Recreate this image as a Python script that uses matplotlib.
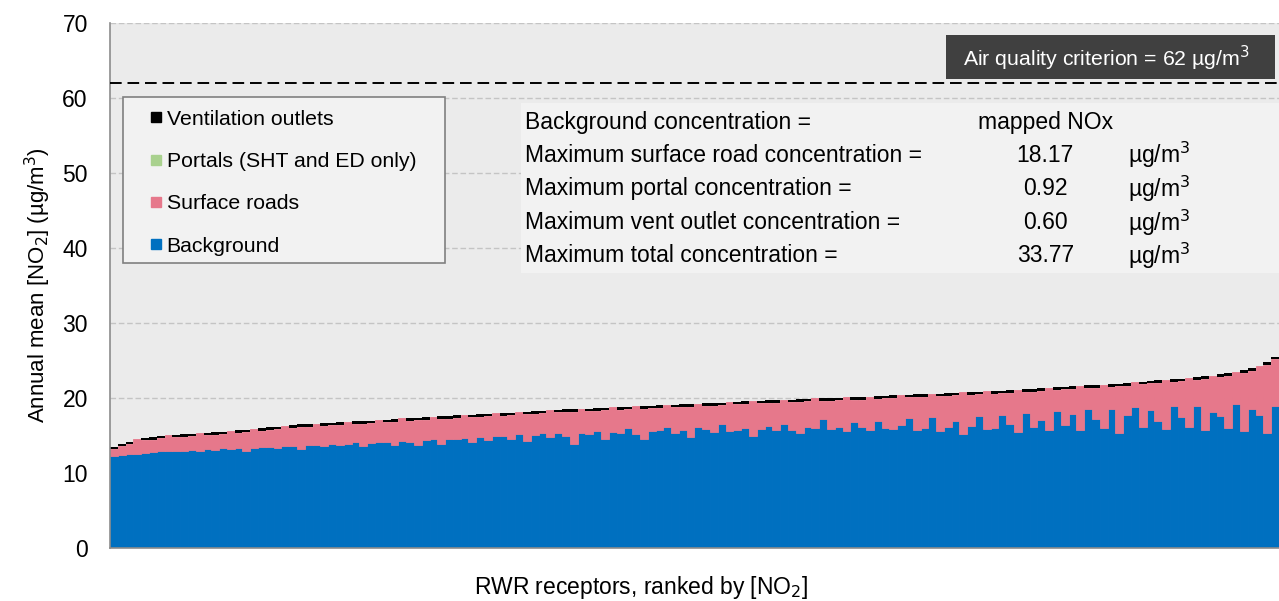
import numpy as np
import matplotlib
matplotlib.use("Agg")
import matplotlib.pyplot as plt
from matplotlib.lines import Line2D
from matplotlib.patches import Rectangle

plt.rcParams["font.family"] = ["Liberation Sans", "DejaVu Sans"]

# total annual mean NO2 per receptor, ranked
total_no2 = [
    13.5, 13.9, 14.2, 14.5, 14.7, 14.8, 15.0, 15.05, 15.1, 15.2,
    15.25, 15.3, 15.4, 15.45, 15.5, 15.6, 15.7, 15.8, 15.9, 16.0,
    16.1, 16.2, 16.3, 16.4, 16.5, 16.55, 16.6, 16.65, 16.7, 16.8,
    16.85, 16.9, 16.95, 17.0, 17.05, 17.1, 17.2, 17.3, 17.35, 17.4,
    17.45, 17.5, 17.55, 17.6, 17.7, 17.75, 17.8, 17.85, 17.9, 17.95,
    18.0, 18.05, 18.1, 18.2, 18.25, 18.3, 18.4, 18.45, 18.5, 18.55,
    18.6, 18.6, 18.65, 18.7, 18.75, 18.8, 18.85, 18.9, 18.95, 19.0,
    19.05, 19.1, 19.1, 19.15, 19.2, 19.25, 19.3, 19.35, 19.4, 19.45,
    19.5, 19.55, 19.6, 19.65, 19.7, 19.7, 19.75, 19.8, 19.85, 19.9,
    19.95, 20.0, 20.0, 20.05, 20.1, 20.1, 20.15, 20.2, 20.25, 20.3,
    20.35, 20.4, 20.45, 20.5, 20.5, 20.55, 20.6, 20.65, 20.7, 20.75,
    20.8, 20.85, 20.9, 20.95, 21.0, 21.05, 21.1, 21.15, 21.2, 21.3,
    21.4, 21.45, 21.5, 21.55, 21.6, 21.7, 21.75, 21.8, 21.85, 21.9,
    22.0, 22.1, 22.2, 22.3, 22.35, 22.4, 22.5, 22.6, 22.7, 22.8,
    22.9, 23.0, 23.2, 23.35, 23.5, 23.7, 24.0, 24.3, 24.8, 25.5,
]

background = [
    12.3, 12.4, 12.5, 12.6, 12.7, 12.8, 12.9, 12.9, 13.0, 13.0,
    13.1, 13.0, 13.2, 13.1, 13.3, 13.2, 13.4, 12.9, 13.4, 13.5,
    13.5, 13.3, 13.6, 13.6, 13.2, 13.7, 13.8, 13.6, 13.9, 13.8,
    13.9, 14.1, 13.6, 14.0, 14.2, 14.1, 13.8, 14.3, 14.2, 13.7,
    14.4, 14.5, 13.9, 14.6, 14.5, 14.7, 14.2, 14.8, 14.4, 14.9,
    15.0, 14.6, 15.2, 14.3, 15.1, 15.3, 14.8, 15.4, 15.0, 13.9,
    15.4, 15.2, 15.6, 14.6, 15.5, 15.3, 16.0, 15.2, 14.5, 15.6,
    15.8, 16.1, 15.4, 15.7, 14.8, 16.2, 15.9, 15.5, 16.5, 15.6,
    15.8, 16.0, 14.9, 15.9, 16.3, 15.7, 16.6, 15.8, 15.4, 16.2,
    16.0, 17.2, 15.9, 16.1, 15.6, 16.8, 16.2, 15.7, 17.0, 16.0,
    15.9, 16.4, 17.3, 15.8, 16.0, 17.5, 15.6, 16.1, 17.0, 15.2,
    16.3, 17.6, 15.9, 16.0, 17.8, 16.6, 15.5, 18.0, 16.2, 17.1,
    15.8, 18.3, 16.4, 17.9, 15.7, 18.5, 17.2, 16.0, 18.6, 15.4,
    17.8, 18.8, 16.1, 18.4, 17.0, 15.9, 18.9, 17.5, 16.2, 19.0,
    15.8, 18.2, 17.6, 16.0, 19.2, 15.6, 18.5, 17.8, 15.3, 18.9,
]

vent_outlets = [
    0.35, 0.35, 0.35, 0.0, 0.35, 0.35, 0.35, 0.0, 0.35, 0.35,
    0.35, 0.0, 0.35, 0.35, 0.35, 0.0, 0.35, 0.35, 0.0, 0.35,
    0.35, 0.35, 0.0, 0.35, 0.35, 0.35, 0.0, 0.35, 0.35, 0.35,
    0.0, 0.35, 0.35, 0.35, 0.0, 0.35, 0.35, 0.0, 0.35, 0.35,
    0.35, 0.0, 0.35, 0.35, 0.35, 0.0, 0.35, 0.35, 0.35, 0.0,
    0.35, 0.35, 0.0, 0.35, 0.35, 0.35, 0.0, 0.35, 0.35, 0.35,
    0.0, 0.35, 0.35, 0.35, 0.0, 0.35, 0.35, 0.0, 0.35, 0.35,
    0.35, 0.0, 0.35, 0.35, 0.35, 0.0, 0.35, 0.35, 0.35, 0.0,
    0.35, 0.35, 0.0, 0.35, 0.35, 0.35, 0.0, 0.35, 0.35, 0.35,
    0.0, 0.35, 0.35, 0.35, 0.0, 0.35, 0.35, 0.0, 0.35, 0.35,
    0.35, 0.0, 0.35, 0.35, 0.35, 0.0, 0.35, 0.35, 0.35, 0.0,
    0.35, 0.35, 0.0, 0.35, 0.35, 0.35, 0.0, 0.35, 0.35, 0.35,
    0.0, 0.35, 0.35, 0.35, 0.0, 0.35, 0.35, 0.0, 0.35, 0.35,
    0.35, 0.0, 0.35, 0.35, 0.35, 0.0, 0.35, 0.35, 0.0, 0.35,
    0.35, 0.0, 0.35, 0.35, 0.0, 0.35, 0.35, 0.0, 0.35, 0.35,
]

portals = [
    0.0, 0.0, 0.0, 0.0, 0.0, 0.0, 0.0, 0.0, 0.0, 0.0,
    0.0, 0.0, 0.0, 0.0, 0.0, 0.0, 0.0, 0.0, 0.0, 0.0,
    0.0, 0.0, 0.0, 0.0, 0.0, 0.0, 0.0, 0.0, 0.0, 0.0,
    0.0, 0.0, 0.0, 0.0, 0.0, 0.0, 0.0, 0.0, 0.0, 0.0,
    0.0, 0.0, 0.0, 0.0, 0.0, 0.0, 0.0, 0.0, 0.0, 0.0,
    0.0, 0.0, 0.0, 0.0, 0.0, 0.0, 0.0, 0.0, 0.0, 0.0,
    0.0, 0.0, 0.0, 0.0, 0.0, 0.0, 0.0, 0.0, 0.0, 0.0,
    0.0, 0.0, 0.0, 0.0, 0.0, 0.0, 0.0, 0.0, 0.0, 0.0,
    0.0, 0.0, 0.0, 0.0, 0.0, 0.0, 0.0, 0.0, 0.0, 0.0,
    0.0, 0.0, 0.0, 0.0, 0.0, 0.0, 0.0, 0.0, 0.0, 0.0,
    0.0, 0.0, 0.0, 0.0, 0.0, 0.0, 0.0, 0.0, 0.0, 0.0,
    0.0, 0.0, 0.0, 0.0, 0.0, 0.0, 0.0, 0.0, 0.0, 0.0,
    0.0, 0.0, 0.0, 0.0, 0.0, 0.0, 0.1, 0.0, 0.0, 0.0,
    0.0, 0.0, 0.0, 0.0, 0.0, 0.0, 0.0, 0.0, 0.0, 0.0,
    0.0, 0.0, 0.1, 0.0, 0.0, 0.0, 0.0, 0.0, 0.0, 0.0,
]

criterion = 62

summary_labels = [
    "Background concentration =",
    "Maximum surface road concentration =",
    "Maximum portal concentration =",
    "Maximum vent outlet concentration =",
    "Maximum total concentration =",
]
summary_values = ["mapped NOx", "18.17", "0.92", "0.60", "33.77"]
summary_units = ["", "µg/m$^3$", "µg/m$^3$", "µg/m$^3$", "µg/m$^3$"]

c_bg = "#0070C0"
c_road = "#E6788B"
c_portal = "#A9D18E"
c_vent = "#000000"

total = np.array(total_no2)
bg = np.array(background)
vent = np.array(vent_outlets)
por = np.array(portals)
road = total - bg - vent - por
x = np.arange(len(total))

fig = plt.figure(figsize=(12.79, 6.01), dpi=100)
ax = fig.add_axes([0.086, 0.088, 0.914, 0.874])
ax.set_facecolor("#EBEBEB")

ax.bar(x, bg, width=1.0, color=c_bg, edgecolor=c_bg, linewidth=0.6, zorder=2)
ax.bar(x, road, width=1.0, bottom=bg, color=c_road, edgecolor=c_road, linewidth=0.6, zorder=2)
ax.bar(x, por, width=1.0, bottom=bg + road, color=c_portal, linewidth=0, zorder=2)
ax.bar(x, vent, width=1.0, bottom=bg + road + por, color=c_vent, linewidth=0, zorder=2)

ax.axhline(criterion, color="black", linestyle=(0, (6, 3)), linewidth=1.4, zorder=3)

ax.set_xlim(-0.5, len(total) - 0.5)
ax.set_ylim(0, 70)
ax.set_yticks(range(0, 71, 10))
ax.set_xticks([])
ax.yaxis.grid(True, color="#C4C4C4", linestyle=(0, (4, 2)), linewidth=1.0, zorder=0)
ax.set_axisbelow(True)
ax.tick_params(axis="y", length=0, labelsize=16.5, pad=16)
for s in ["top", "right"]:
    ax.spines[s].set_visible(False)
ax.spines["left"].set_color("#8C8C8C")
ax.spines["bottom"].set_color("#8C8C8C")
ax.spines["left"].set_linewidth(1.2)
ax.spines["bottom"].set_linewidth(1.2)

ax.set_ylabel("Annual mean [NO$_2$] (µg/m$^3$)", fontsize=16, labelpad=7)
ax.set_xlabel("RWR receptors, ranked by [NO$_2$]", fontsize=16.5)
ax.xaxis.set_label_coords(0.454, -0.05)

# legend frame drawn separately so its size matches the original
ax.add_patch(Rectangle((0.0111, 0.543), 0.2755, 0.316, transform=ax.transAxes,
                       facecolor="#F2F2F2", edgecolor="#808080", linewidth=1.2, zorder=4))
handles = [
    Line2D([], [], marker="s", color=c_vent, linestyle="none", markersize=7.5),
    Line2D([], [], marker="s", color=c_portal, linestyle="none", markersize=7.5),
    Line2D([], [], marker="s", color=c_road, linestyle="none", markersize=7.5),
    Line2D([], [], marker="s", color=c_bg, linestyle="none", markersize=7.5),
]
leg = ax.legend(handles, ["Ventilation outlets", "Portals (SHT and ED only)", "Surface roads", "Background"],
                loc="upper left", bbox_to_anchor=(0.0111, 0.855), fontsize=15.3, frameon=False,
                labelspacing=1.1, handlelength=2.1, handletextpad=-0.55, borderpad=0.5,
                borderaxespad=0)
leg.set_zorder(5)

# summary table box
ax.add_patch(Rectangle((0.3516, 0.524), 0.648, 0.324, transform=ax.transAxes,
                       facecolor="#F2F2F2", edgecolor="none", zorder=4))
row_y = [0.811, 0.748, 0.684, 0.620, 0.557]
for yy, lab, val, unit in zip(row_y, summary_labels, summary_values, summary_units):
    ax.text(0.355, yy, lab, transform=ax.transAxes, fontsize=16.5, va="center", ha="left", zorder=5)
    ax.text(0.800, yy, val, transform=ax.transAxes, fontsize=16.5, va="center", ha="center", zorder=5)
    if unit:
        ax.text(0.871, yy, unit, transform=ax.transAxes, fontsize=16.5, va="center", ha="left", zorder=5)

# criterion label box
ax.add_patch(Rectangle((0.715, 0.893), 0.282, 0.084, transform=ax.transAxes,
                       facecolor="#404040", edgecolor="none", zorder=4))
ax.text(0.730, 0.933, "Air quality criterion = 62 µg/m$^3$", transform=ax.transAxes,
        fontsize=15.3, color="white", va="center", ha="left", zorder=5)

fig.savefig("out.png", dpi=100)
